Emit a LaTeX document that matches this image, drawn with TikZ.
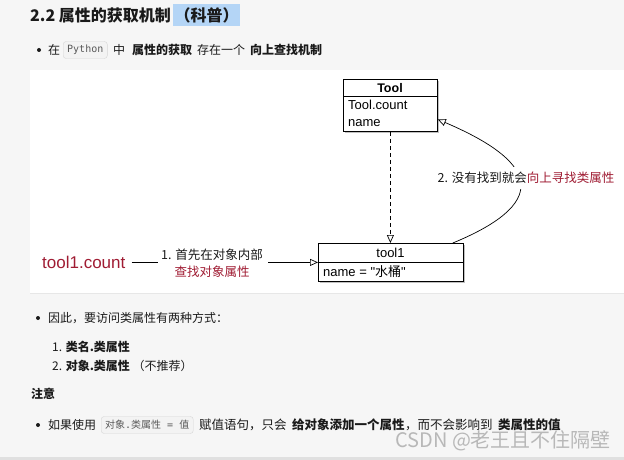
\documentclass[tikz,border=0pt]{standalone}
\usepackage{fontspec}
\setmainfont{Noto Sans CJK SC}
\newfontfamily\hv{Liberation Sans}
\newfontfamily\cjk{Noto Sans CJK SC}
\setmonofont{DejaVu Sans Mono}
\usetikzlibrary{arrows.meta,shadows,calc}
\definecolor{bg}{HTML}{F6F6F6}
\definecolor{redt}{HTML}{A01C33}
\definecolor{hl}{HTML}{B4D5F6}
\definecolor{codebg}{HTML}{F3F3F3}
\definecolor{codeln}{HTML}{D6D6D6}
\definecolor{txt}{HTML}{1A1A1A}
\definecolor{wm}{HTML}{B8B8B8}
\begin{document}
\begin{tikzpicture}[x=1pt,y=-1pt,
  body/.style={anchor=west, inner sep=0pt, text=txt, font=\fontsize{12}{14}\selectfont},
  bodyb/.style={body, font=\fontsize{12}{14}\selectfont\bfseries},
  bul/.style={circle, fill=txt, inner sep=0pt, minimum size=4pt},
  codebox/.style={anchor=west, draw=codeln, fill=codebg, rounded corners=3pt, inner xsep=4pt, minimum height=17pt, text=black!65, font=\fontsize{10}{12}\ttfamily},
  umlbox/.style={draw=black, line width=0.8pt, fill=white, inner sep=0pt, anchor=north west,
    drop shadow={shadow xshift=1.2pt, shadow yshift=-1.2pt, opacity=0.35, fill=black!70}},
  umltxt/.style={inner sep=0pt, text=black, font=\fontsize{13}{15}\selectfont\hv},
  openarrow/.style={-{Triangle[open, length=8pt, width=7pt]}, line width=0.7pt},
]
\useasboundingbox (0,0) rectangle (624,460);
\fill[bg] (0,0) rectangle (624,460);
\fill[black!12] (0,457) rectangle (624,460);
% panel
\fill[white, drop shadow={shadow xshift=0pt, shadow yshift=-1pt, opacity=0.12}] (30,70) rectangle (626,293);

% title
\node[anchor=west, inner sep=0pt, text=txt, font=\fontsize{16}{18}\selectfont\bfseries] (title) at (30,15) {2.2 属性的获取机制};
\node[anchor=west, fill=hl, inner sep=0pt, minimum height=22pt, minimum width=67pt, text=txt, font=\fontsize{16}{18}\selectfont\bfseries] (kepu) at (173,15) {（科普）};

% line 1
\node[bul] (b1) at (39,50) {};
\node[body] (l1a) at (48,50) {在};
\node[codebox] (py) at (63,50) {Python};
\node[body] (l1b) at (113,50) {中};
\node[bodyb] (l1c) at (132,50) {属性的获取};
\node[body] (l1d) at (197,50) {存在一个};
\node[bodyb] (l1e) at (250,50) {向上查找机制};

% UML boxes
\node[umlbox, minimum width=94pt, minimum height=52pt] (Tool) at (343,79) {};
\draw[line width=0.8pt] ($(Tool.north west)+(0,17)$) -- ($(Tool.north east)+(0,17)$);
\node[umltxt, font=\fontsize{12.5}{15}\selectfont\hv\bfseries] (ToolT) at (390,88) {Tool};
\node[umltxt, anchor=west] (ToolC) at (348,105) {Tool.count};
\node[umltxt, anchor=west] (ToolN) at (348,123) {name};

\node[umlbox, minimum width=145pt, minimum height=38pt] (tool1) at (318,243) {};
\draw[line width=0.8pt] ($(tool1.north west)+(0,19)$) -- ($(tool1.north east)+(0,19)$);
\node[umltxt] (tool1T) at (390.5,253) {tool1};
\node[umltxt, anchor=west] (tool1N) at (323,272) {name = "{\cjk 水桶}"};

% dashed inheritance
\draw[openarrow, dash pattern=on 4pt off 3pt] (Tool.south) -- (Tool.south |- tool1.north);

% left arrow
\node[anchor=west, inner sep=0pt, text=redt, font=\fontsize{17}{19}\selectfont\hv] (tc) at (42,262) {tool1.count};
\node[inner sep=0pt, align=center, text=txt, font=\fontsize{12.5}{17}\selectfont] (lbl1) at (212,263) {1. 首先在对象内部\\ \textcolor{redt}{查找对象属性}};
\draw[line width=0.7pt] ([xshift=6pt]tc.east) -- ([xshift=-3pt]lbl1.west |- tc.east);
\draw[openarrow] ([xshift=5pt]lbl1.east |- tool1.west) -- (tool1.west);

% curved arrow
\draw[openarrow] ($(tool1.north east)+(-11,0)$) .. controls (545,205) and (545,165) .. ($(Tool.east)+(0,14)$);
\node[fill=white, inner xsep=1pt, inner ysep=5pt, text=txt, font=\fontsize{12.5}{15}\selectfont] (lbl2) at (526,178) {2. 没有找到就会\textcolor{redt}{向上寻找类属性}};

% list
\node[bul] (b2) at (38,318) {};
\node[body] (l2) at (48,318) {因此，要访问类属性有两种方式：};
\node[body] (l3) at (52,347) {1. \textbf{类名.类属性}};
\node[body] (l4) at (52,366) {2. \textbf{对象.类属性} （不推荐）};
\node[bodyb] (note) at (31,394) {注意};

\node[bul] (b3) at (38,425) {};
\node[body] (l5a) at (48,425) {如果使用};
\node[codebox, font=\fontsize{10}{12}\selectfont] (code2) at (101,425) {对象{\ttfamily.}类属性{\ttfamily{} = }值};
\node[body, font=\fontsize{12.5}{14}\selectfont] (l5b) at (199,425) {赋值语句，只会};
\node[bodyb, font=\fontsize{12.5}{14}\selectfont\bfseries] (l5c) at (292,425) {给对象添加一个属性};
\node[body, font=\fontsize{12.5}{14}\selectfont] (l5d) at (l5c.east) {，而不会影响到};
\node[bodyb, font=\fontsize{12.5}{14}\selectfont\bfseries] (l5e) at (498,425) {类属性的值};

% watermark
\node[anchor=west, inner sep=0pt, text=wm, font=\fontsize{20}{22}\selectfont] (wmk) at (395,441) {CSDN @老王且不住隔壁};
\end{tikzpicture}
\end{document}
